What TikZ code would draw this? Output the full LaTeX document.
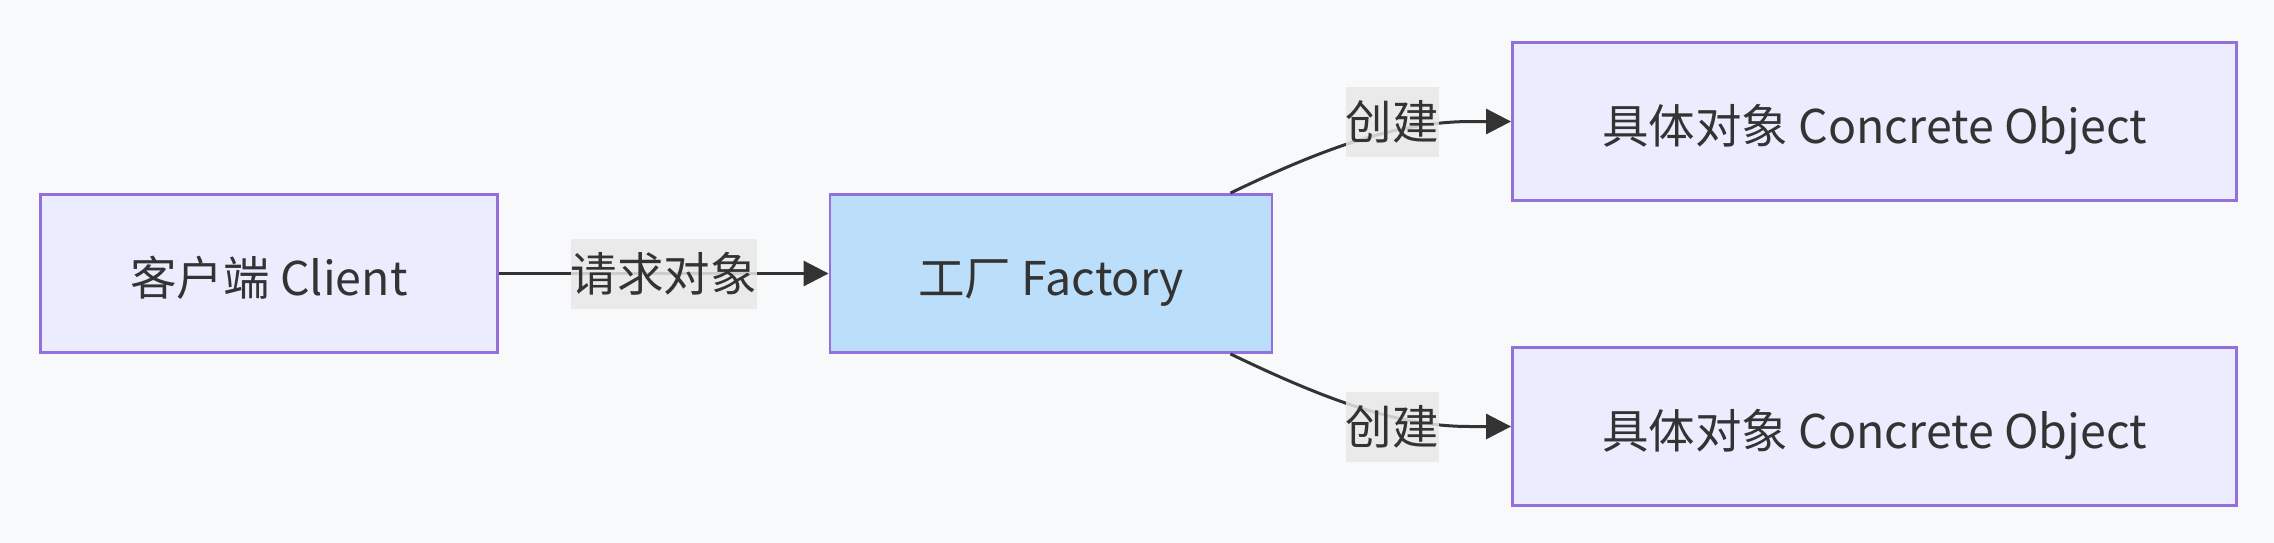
\documentclass[tikz,border=0pt]{standalone}
\usepackage{fontspec}
\setmainfont{Noto Sans CJK SC}
\usetikzlibrary{arrows.meta}
\definecolor{bgc}{HTML}{F8F9FA}
\definecolor{boxfill}{HTML}{ECECFF}
\definecolor{boxline}{HTML}{9370DB}
\definecolor{factfill}{HTML}{BBDEFB}
\definecolor{ink}{HTML}{333333}
\definecolor{lblbg}{HTML}{E8E8E8}
\tikzset{
  box/.style={draw=boxline, line width=2.9pt, fill=boxfill, text=ink, font=\fontsize{46.5}{56}\selectfont, inner sep=0pt, text height=50.5pt, text depth=6pt},
  lbl/.style={fill=lblbg, fill opacity=0.85, text opacity=1, text=ink, font=\fontsize{46.5}{56}\selectfont, inner xsep=0pt, inner ysep=0pt, minimum height=70pt},
  conn/.style={draw=ink, line width=3pt},
  arr/.style={conn, -{Triangle[length=25pt,width=25pt]}},
}
\begin{document}
\begin{tikzpicture}[x=1pt,y=-1pt]
\useasboundingbox (0,0) rectangle (2274,543);
\fill[bgc] (0,0) rectangle (2274,543);
\node[box, minimum width=457pt, minimum height=158pt] (client) at (269,273.5) {客户端 Client};
\node[box, fill=factfill, minimum width=442pt, minimum height=158pt] (factory) at (1051,273.5) {工厂 Factory};
\node[box, minimum width=724pt, minimum height=158pt] (c1) at (1874.5,121.5) {具体对象 Concrete Object};
\node[box, minimum width=724pt, minimum height=158pt] (c2) at (1874.5,426.5) {具体对象 Concrete Object};
% connectors
\draw[arr] (client.east) -- (factory.west);
\coordinate (ft) at ([xshift=-43pt]factory.north east);
\coordinate (fb) at ([xshift=-43pt]factory.south east);
\draw[arr] (ft) .. controls (1330,145) and (1400,122) .. (1470,121.5) -- (c1.west);
\draw[arr] (fb) .. controls (1330,402) and (1400,426.5) .. (1470,426.5) -- (c2.west);
% labels
\node[lbl] (l0) at (663.5,274) {请求对象};
\node[lbl] (l1) at (1392,122) {创建};
\node[lbl] (l2) at (1392,426.5) {创建};
\end{tikzpicture}
\end{document}
